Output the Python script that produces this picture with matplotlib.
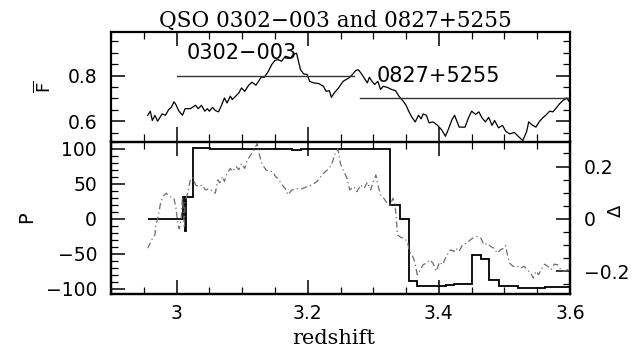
import matplotlib
matplotlib.use("Agg")
import matplotlib.pyplot as plt
from matplotlib.ticker import MultipleLocator, FuncFormatter

# Mean transmitted flux along the line of sight
flux_z = [2.956, 2.960, 2.963, 2.967, 2.971, 2.978, 2.983, 2.988, 2.992, 2.996,
          2.999, 3.003, 3.009, 3.013, 3.021, 3.029, 3.033, 3.038, 3.043, 3.047,
          3.050, 3.055, 3.059, 3.064, 3.069, 3.073, 3.077, 3.082, 3.085, 3.091,
          3.095, 3.099, 3.104, 3.110, 3.115, 3.121, 3.125, 3.129, 3.134, 3.140,
          3.145, 3.150, 3.155, 3.160, 3.166, 3.174, 3.179, 3.183, 3.186, 3.189,
          3.194, 3.199, 3.203, 3.209, 3.217, 3.224, 3.228, 3.233, 3.236, 3.241,
          3.247, 3.254, 3.258, 3.263, 3.268, 3.273, 3.277, 3.281, 3.286, 3.291,
          3.294, 3.298, 3.302, 3.307, 3.311, 3.315, 3.321, 3.328, 3.334, 3.339,
          3.345, 3.350, 3.354, 3.359, 3.364, 3.369, 3.373, 3.376, 3.381, 3.385,
          3.391, 3.398, 3.404, 3.410, 3.415, 3.420, 3.424, 3.428, 3.431, 3.440,
          3.445, 3.450, 3.456, 3.461, 3.466, 3.471, 3.476, 3.481, 3.485, 3.491,
          3.497, 3.502, 3.508, 3.515, 3.521, 3.528, 3.534, 3.537, 3.543, 3.548,
          3.553, 3.558, 3.563, 3.569, 3.574, 3.579, 3.584, 3.589, 3.595, 3.599]
flux = [0.626, 0.644, 0.603, 0.626, 0.600, 0.632, 0.626, 0.651, 0.661, 0.685,
        0.673, 0.647, 0.626, 0.655, 0.655, 0.670, 0.655, 0.670, 0.644, 0.655,
        0.644, 0.661, 0.647, 0.641, 0.673, 0.702, 0.680, 0.710, 0.695, 0.712,
        0.724, 0.746, 0.731, 0.758, 0.771, 0.758, 0.775, 0.793, 0.793, 0.819,
        0.848, 0.867, 0.870, 0.863, 0.885, 0.878, 0.895, 0.898, 0.863, 0.826,
        0.807, 0.805, 0.775, 0.768, 0.765, 0.753, 0.731, 0.734, 0.705, 0.726,
        0.746, 0.775, 0.782, 0.790, 0.804, 0.822, 0.826, 0.812, 0.790, 0.768,
        0.793, 0.775, 0.761, 0.775, 0.739, 0.753, 0.749, 0.739, 0.734, 0.710,
        0.690, 0.670, 0.644, 0.617, 0.597, 0.626, 0.610, 0.632, 0.626, 0.593,
        0.597, 0.582, 0.563, 0.534, 0.568, 0.607, 0.626, 0.597, 0.574, 0.574,
        0.614, 0.644, 0.630, 0.641, 0.614, 0.597, 0.617, 0.582, 0.603, 0.571,
        0.582, 0.556, 0.544, 0.551, 0.534, 0.515, 0.556, 0.597, 0.582, 0.574,
        0.597, 0.614, 0.626, 0.644, 0.641, 0.658, 0.676, 0.690, 0.702, 0.685]

# Redshift coverage of each quasar (mean-flux reference level)
qso_names = ["0302\u2212003", "0827+5255"]
qso_zmin = [3.00, 3.28]
qso_zmax = [3.27, 3.60]
qso_level = [0.80, 0.70]
qso_label_z = [3.10, 3.40]
qso_label_f = [0.90, 0.80]

# Probability P (step function over redshift bins)
p_edges = [2.956, 3.0094, 3.013, 3.0145, 3.025, 3.051, 3.176, 3.189, 3.326,
           3.340, 3.354, 3.367, 3.411, 3.423, 3.450, 3.464, 3.477, 3.492,
           3.520, 3.562, 3.600]
p_values = [0.0, 30.5, -18.0, 30.5, 100.5, 99.5, 97.8, 99.5, 20.0, 0.0,
            -88.6, -95.8, -94.5, -93.5, -52.5, -57.0, -88.0, -96.0, -98.8, -98.0]

# Flux difference Delta between the two sightlines
delta_z = [2.956, 2.962, 2.967, 2.968, 2.972, 2.975, 2.979, 2.984, 2.990, 2.996,
           2.999, 3.002, 3.004, 3.007, 3.009, 3.012, 3.013, 3.017, 3.021, 3.025,
           3.029, 3.034, 3.039, 3.044, 3.051, 3.055, 3.059, 3.063, 3.066, 3.070,
           3.073, 3.077, 3.082, 3.085, 3.091, 3.095, 3.099, 3.104, 3.108, 3.113,
           3.118, 3.123, 3.125, 3.130, 3.136, 3.141, 3.146, 3.151, 3.156, 3.161,
           3.166, 3.170, 3.176, 3.184, 3.191, 3.199, 3.207, 3.214, 3.222, 3.227,
           3.233, 3.237, 3.242, 3.246, 3.250, 3.255, 3.260, 3.264, 3.270, 3.275,
           3.281, 3.286, 3.291, 3.296, 3.300, 3.304, 3.307, 3.311, 3.316, 3.321,
           3.326, 3.330, 3.333, 3.335, 3.337, 3.342, 3.347, 3.352, 3.355, 3.359,
           3.363, 3.367, 3.372, 3.376, 3.381, 3.386, 3.391, 3.396, 3.401, 3.406,
           3.411, 3.418, 3.423, 3.426, 3.431, 3.436, 3.442, 3.448, 3.453, 3.458,
           3.464, 3.469, 3.474, 3.479, 3.484, 3.489, 3.494, 3.499, 3.502, 3.504,
           3.508, 3.513, 3.520, 3.525, 3.530, 3.535, 3.540, 3.544, 3.548, 3.552,
           3.556, 3.561, 3.566, 3.571, 3.576, 3.581, 3.586, 3.591, 3.596, 3.600]
delta = [-0.112, -0.080, -0.061, -0.029, 0.009, 0.053, 0.085, 0.098, 0.085, 0.079,
         0.041, -0.016, -0.038, 0.003, 0.085, -0.035, 0.066, 0.098, 0.149, 0.158,
         0.130, 0.123, 0.130, 0.111, 0.115, 0.104, 0.098, 0.149, 0.138, 0.162,
         0.143, 0.174, 0.193, 0.181, 0.200, 0.188, 0.212, 0.193, 0.225, 0.244,
         0.263, 0.288, 0.257, 0.212, 0.188, 0.181, 0.181, 0.162, 0.149, 0.130,
         0.115, 0.092, 0.111, 0.115, 0.115, 0.123, 0.130, 0.143, 0.168, 0.181,
         0.193, 0.212, 0.250, 0.267, 0.210, 0.181, 0.155, 0.111, 0.123, 0.104,
         0.130, 0.117, 0.140, 0.111, 0.142, 0.168, 0.130, 0.092, 0.079, 0.060,
         0.053, 0.079, 0.060, 0.003, -0.061, -0.071, -0.074, -0.086, -0.124, -0.137,
         -0.162, -0.213, -0.194, -0.175, -0.169, -0.156, -0.169, -0.200, -0.165, -0.175,
         -0.143, -0.118, -0.124, -0.112, -0.124, -0.099, -0.093, -0.080, -0.071, -0.067,
         -0.074, -0.099, -0.093, -0.105, -0.112, -0.131, -0.118, -0.112, -0.102, -0.131,
         -0.169, -0.181, -0.181, -0.188, -0.181, -0.194, -0.207, -0.226, -0.200, -0.213,
         -0.194, -0.173, -0.181, -0.194, -0.173, -0.175, -0.194, -0.200, -0.194, -0.207]

x_ticks = [3.0, 3.2, 3.4, 3.6]

plt.rcParams["font.family"] = ["DejaVu Sans"]
plt.rcParams["mathtext.fontset"] = "dejavusans"
plt.rcParams["axes.linewidth"] = 1.6

TICK_FS = 13.5
fig = plt.figure(figsize=(6.44, 3.57), dpi=100)

L, W = 111 / 644, 459 / 644
ax_f = fig.add_axes([L, 1 - 141.5 / 357, W, (141.5 - 32.3) / 357])
ax_p = fig.add_axes([L, 1 - 294 / 357, W, (294 - 141.5) / 357])
ax_d = ax_p.twinx()


def style_ticks(ax, left=True, right=True):
    ax.tick_params(which="both", direction="in", top=True, bottom=True,
                   left=left, right=right, labelsize=TICK_FS, pad=10,
                   colors="black")
    ax.tick_params(which="major", length=10, width=1.1)
    ax.tick_params(which="minor", length=5, width=0.9)


def num_fmt(v, pos):
    s = f"{v:g}"
    return s.replace("-", "\u2212")


# Upper panel: mean flux
ax_f.plot(flux_z, flux, color="black", lw=0.9)
for zmin, zmax, lev in zip(qso_zmin, qso_zmax, qso_level):
    ax_f.plot([zmin, zmax], [lev, lev], color="#333333", lw=1.0)
for name, zl, fl in zip(qso_names, qso_label_z, qso_label_f):
    ax_f.text(zl, fl, name, fontsize=15, ha="center", va="center")
ax_f.set_xlim(2.9, 3.6)
ax_f.set_ylim(0.511, 0.990)
ax_f.xaxis.set_major_locator(MultipleLocator(0.2))
ax_f.xaxis.set_minor_locator(MultipleLocator(0.05))
ax_f.yaxis.set_major_locator(MultipleLocator(0.2))
ax_f.yaxis.set_minor_locator(MultipleLocator(0.05))
ax_f.yaxis.set_major_formatter(FuncFormatter(num_fmt))
style_ticks(ax_f)
ax_f.tick_params(labelbottom=False)
ax_f.spines["bottom"].set_visible(False)

# Lower panel: P (left axis) and Delta (right axis)
ax_p.stairs(p_values, p_edges, baseline=None, color="black", lw=1.3)
ax_p.set_xlim(2.9, 3.6)
ax_p.set_ylim(-107.6, 110.3)
ax_p.set_xticks(x_ticks)
ax_p.xaxis.set_minor_locator(MultipleLocator(0.05))
ax_p.xaxis.set_major_formatter(FuncFormatter(num_fmt))
ax_p.yaxis.set_major_locator(MultipleLocator(50))
ax_p.yaxis.set_minor_locator(MultipleLocator(10))
ax_p.yaxis.set_major_formatter(FuncFormatter(num_fmt))
style_ticks(ax_p, left=True, right=False)
ax_p.tick_params(axis="x", pad=7)

ax_d.plot(delta_z, delta, color="#6e6e6e", lw=0.9,
          linestyle=(0, (5, 2.5, 1, 2.5)))
ax_d.set_ylim(-0.2869, 0.2957)
ax_d.yaxis.set_major_locator(MultipleLocator(0.2))
ax_d.yaxis.set_minor_locator(MultipleLocator(0.05))
ax_d.yaxis.set_major_formatter(FuncFormatter(num_fmt))
ax_d.tick_params(which="both", direction="in", left=False, right=True,
                 labelsize=TICK_FS, pad=10)
ax_d.tick_params(which="major", length=10, width=1.1)
ax_d.tick_params(which="minor", length=5, width=0.9)
for sp in ax_d.spines.values():
    sp.set_linewidth(1.6)

# Axis titles
fig.text(335 / 644, 1 - 21 / 357, "QSO 0302\u2212003 and 0827+5255",
         family="DejaVu Serif", fontsize=15.5, ha="center", va="center")
fig.text(334 / 644, 1 - 339 / 357, "redshift", family="DejaVu Serif",
         fontsize=15, ha="center", va="center")
fig.text(44 / 644, 1 - 87 / 357, r"$\overline{\mathrm{F}}$", fontsize=13,
         rotation=90, ha="center", va="center")
fig.text(27 / 644, 1 - 217 / 357, "P", fontsize=14, rotation=90,
         ha="center", va="center")
fig.text(616 / 644, 1 - 211 / 357, "\u0394", fontsize=13, rotation=90,
         ha="center", va="center")

fig.savefig("out.png", dpi=100)
